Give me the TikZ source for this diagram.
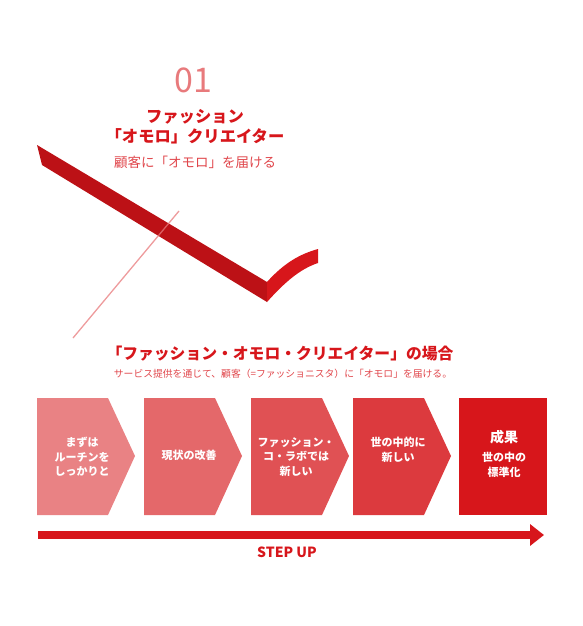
\documentclass[tikz,border=0pt]{standalone}
\usepackage{fontspec}
\setmainfont{Noto Sans CJK JP}
\usepackage{xcolor}
\usepackage{tikz}
\usetikzlibrary{arrows.meta}
\definecolor{aka}{HTML}{D7161B}
\definecolor{akaDark}{HTML}{BC1116}
\definecolor{akaText}{HTML}{E0474C}
\definecolor{momo}{HTML}{E87A7C}
\definecolor{stepA}{HTML}{E98284}
\definecolor{stepB}{HTML}{E4686A}
\definecolor{stepC}{HTML}{E05154}
\definecolor{stepD}{HTML}{DC3A3E}
\tikzset{
  boxtext/.style={text=white,font=\bfseries\fontsize{11}{14.5}\selectfont,align=center},
  steparrow/.style={aka,line width=8pt,-{Triangle[width=21pt,length=14pt]}}
}

\begin{document}
\begin{tikzpicture}[x=1pt,y=-1pt]
\useasboundingbox (0,0) rectangle (582,626);
%チェック
\fill[akaDark] (37,145) -- (267,282) -- (267,302) -- (42,165) -- cycle;
\fill[aka] (267,282) .. controls (284,263) and (300,254) .. (318,249)
  -- (318,263) .. controls (300,269) and (285,282) .. (267,302) -- cycle;
\draw[momo,line width=1.3pt,opacity=0.75] (73,338) -- (179,211);
%Text
\node[text=momo,font=\fontsize{34}{34}\selectfont] (num) at (193,80) {01};
\node[text=aka,font=\bfseries\fontsize{16.3}{20}\selectfont,align=center] (title) at (195,127)
  {ファッション\\「オモロ」クリエイター};
\node[text=akaText,font=\fontsize{13.5}{16}\selectfont] (sub) at (195,162) {顧客に「オモロ」を届ける};
\node[text=aka,font=\bfseries\fontsize{15.8}{18}\selectfont] (head) at (280,354)
  {「ファッション・オモロ・クリエイター」の場合};
\node[text=akaText,font=\fontsize{9.8}{11}\selectfont] (lead) at (283,374)
  {サービス提供を通じて、顧客（=ファッショニスタ）に「オモロ」を届ける。};
%ステップ
\foreach \x/\c in {37/stepA,144/stepB,251/stepC,353/stepD}
  \fill[\c] (\x,398) -- ++(71,0) -- ++(27,58) -- ++(-27,59) -- ++(-71,0) -- cycle;
\fill[aka] (459,398) rectangle (547,515);
\node[boxtext] (s1) at (82,457) {まずは\\ルーチンを\\しっかりと};
\node[boxtext] (s2) at (189,455) {現状の改善};
\node[boxtext] (s3) at (296,457) {ファッション・\\コ・ラボでは\\新しい};
\node[boxtext] (s4) at (398,450) {世の中的に\\新しい};
\node[text=white,font=\bfseries\fontsize{14}{16}\selectfont] (s5) at (504,437) {成果};
\node[boxtext] (s5b) at (504,465) {世の中の\\標準化};
%STEP UP
\coordinate (stepL) at (38,535);
\coordinate (stepR) at (544,535);
\draw[steparrow] (stepL) -- (stepR);
\node[text=aka,font=\bfseries\fontsize{14}{16}\selectfont] (stepup) at (287,552) {STEP UP};
\end{tikzpicture}
\end{document}
